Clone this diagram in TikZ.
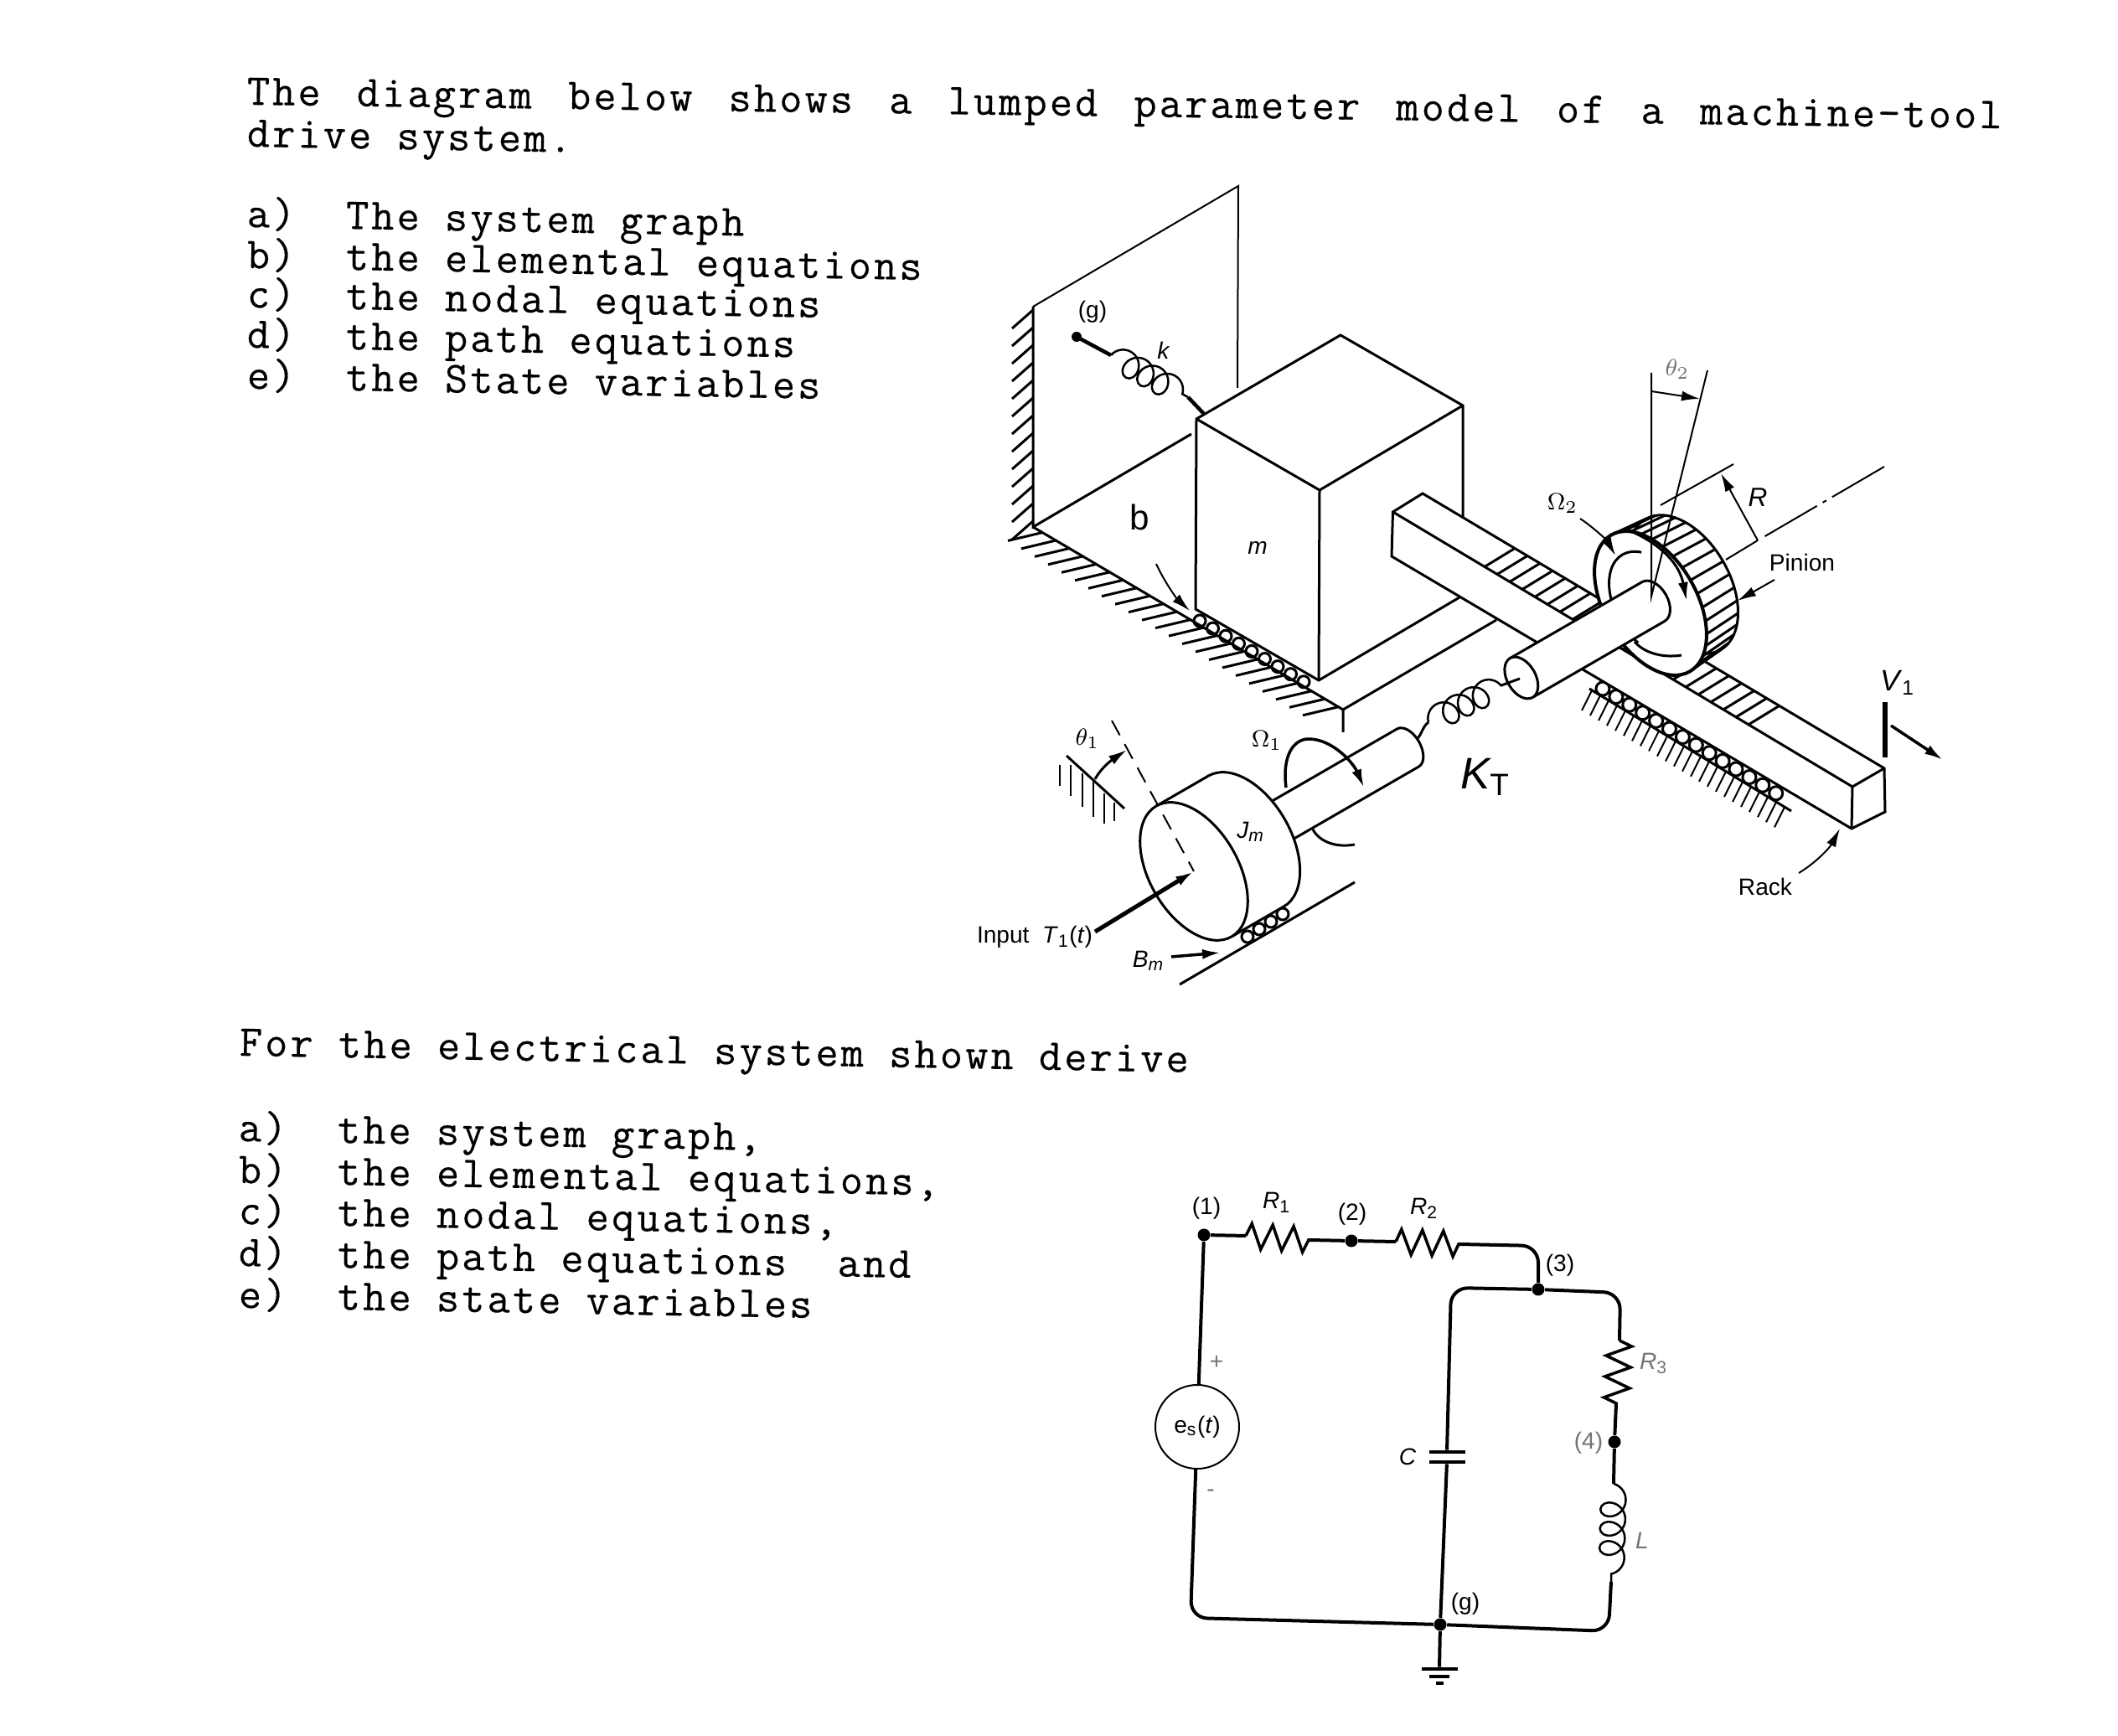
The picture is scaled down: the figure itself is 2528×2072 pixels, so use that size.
\documentclass[tikz,border=0pt]{standalone}
\usepackage{fontspec}
\setsansfont{Liberation Sans}
\setmonofont{Latin Modern Mono}[LetterSpace=6,FakeBold=.35]
\usetikzlibrary{decorations.pathmorphing,shapes.geometric,arrows.meta}
\tikzset{
  >={Latex[length=2.2mm,width=1.2mm]},
  txtline/.style={font=\ttfamily\fontsize{15}{17}\selectfont,anchor=base west,inner sep=0,rotate=-1},
  label/.style={font=\sffamily\fontsize{8}{9}\selectfont,inner sep=0},
  faint/.style={label,text=black!55},
  part/.style={line width=.3mm,fill=white},
  edge/.style={line width=.3mm},
  thin edge/.style={line width=.2mm},
  hatch/.style={line width=.3mm},
  coilwire/.style={line width=.25mm,decorate,decoration={coil,aspect=.9,amplitude=1.5mm,segment length=2mm}},
  wire/.style={line width=.4mm,rounded corners=2mm},
  reswire/.style={line width=.35mm,decorate,decoration={zigzag,amplitude=1.5mm,segment length=2.5mm}},
  indwire/.style={line width=.25mm,decorate,decoration={coil,aspect=.9,amplitude=1.5mm,segment length=2.3mm}},
  dotnode/.style={circle,fill=black,inner sep=0,minimum size=1.5mm},
  plate/.style={fill=black,inner sep=0,minimum height=.35mm},
}
\begin{document}
\begin{tikzpicture}[x=.1mm,y=-.1mm]
  \useasboundingbox (0,0) rectangle (2528,2072);
  % question text
  \node[txtline,rotate=.23] (title) at (294,125) {\spaceskip=12.3pt The diagram below shows a lumped parameter model of a machine-tool};
  \node[txtline] (titleb) at (294,175) {drive system.};
  \node[txtline] (qa) at (294,271) {a)\ \ The system graph};
  \node[txtline] (qb) at (294,320) {b)\ \ the elemental equations};
  \node[txtline] (qc) at (294,367) {c)\ \ the nodal equations};
  \node[txtline] (qd) at (294,415) {d)\ \ the path equations};
  \node[txtline] (qe) at (294,464) {e)\ \ the State variables};
  \node[txtline] (elec) at (285,1260) {For the electrical system shown derive};
  \node[txtline] (ea) at (284,1362) {a)\ \ the system graph,};
  \node[txtline] (eb) at (284,1412) {b)\ \ the elemental equations,};
  \node[txtline] (ec) at (284,1461) {c)\ \ the nodal equations,};
  \node[txtline] (ed) at (284,1511) {d)\ \ the path equations\ \ and};
  \node[txtline] (ee) at (284,1561) {e)\ \ the state variables};

  % wall and floor
  \draw[thin edge] (1233,366) -- (1478,222) -- (1477,463);
  \draw[edge] (1233,366) -- (1233,629) -- (1422,518);
  \draw[edge] (1233,629) -- (1603,847) -- (1603,874);
  \draw[edge] (1603,847) -- (1786,740);
  \foreach \hy in {370,391,...,622}
    \draw[hatch] (1233,\hy) -- ++(-25,22);
  \foreach \hx in {1245,1261,...,1600}
    \draw[hatch] ({\hx},{628.6+(\hx-1233.5)*.592}) -- ++(-42,10);
  % block
  \fill[white] (1428,500) -- (1600,400) -- (1746,484) -- (1746,620) -- (1742,713) -- (1574,812) -- (1427,727) -- cycle;
  \draw[edge] (1746,620) -- (1746,484) -- (1600,400) -- (1428,500) -- (1427,727) -- (1574,812) -- (1742,713);
  \draw[edge] (1428,500) -- (1575,585) -- (1746,484);
  \draw[edge] (1575,585) -- (1574,812);
  \foreach \i in {0,...,8}
    \draw[edge] ({1432+15.5*\i},{741+9.1*\i}) circle (7);
  % spring k
  \fill (1285,402) circle (6);
  \draw[line width=.45mm] (1285,402) -- (1326,424);
  \draw[coilwire] (1326,424) -- (1418,474);
  \draw[line width=.45mm] (1418,474) -- (1437,494);
  \draw[->,thin edge] (1380,673) .. controls (1390,695) and (1405,715) .. (1420,729);

  % rack
  \foreach \i in {0,...,13}
    \draw[edge] ({1913+15.9*\i},{822+9.6*\i}) circle (8);
  \draw[edge] (1897,822) -- (2138,968);
  \foreach \hx in {1900,1910,...,2135}
    \draw[thin edge] ({\hx},{824+(\hx-1900)*.606}) -- ++(-12,24);
  \draw[part] (1661,664) -- (1662.5,611) -- (1698,589) -- (2249,917) -- (2250,969) -- (2210,989) -- cycle;
  \draw[edge] (1662.5,611) -- (2211,939) -- (2249,917);
  \draw[edge] (2211,939) -- (2210,989);
  \foreach \hx in {1772,1787,...,2094}
    \draw[hatch] ({\hx},{611+(\hx-1662.5)*.598}) -- ++(36,-22);

  % pinion and its shaft
  \begin{scope}[shift={(1970,720)},rotate=30]
    \draw[part] (45,0) ellipse [x radius=55,y radius=90];
    \foreach \a in {-99,-88,...,99}
      \draw[hatch] ({55*cos(\a)},{94*sin(\a)}) -- ({45+55*cos(\a)},{90*sin(\a)});
    \draw[part,line width=.4mm] (0,0) ellipse [x radius=55,y radius=94];
    \draw[edge] ({42*cos(150)},{67*sin(150)}) arc [start angle=150,end angle=300,x radius=42,y radius=67];
    \draw[part] (-178,-27) -- (4,-27) arc [start angle=-90,end angle=90,x radius=17,y radius=27] -- (-178,27) -- cycle;
    \draw[part] (-178,0) ellipse [x radius=17,y radius=27];
  \end{scope}
  \draw[->,edge] (1942,632) .. controls (1985,650) and (2005,675) .. (2013,717);
  \draw[edge] (1951,766) .. controls (1965,782) and (1990,785) .. (2007,782);
  \draw[thin edge] (1971,445) -- (1971,712) -- (2038,442);
  \draw[->,thin edge] (1971,467) -- (2029,476);
  \draw[thin edge] (1982,603) -- (2069,554);
  \draw[thin edge] (2060,668) -- (2098,645);
  \draw[->,thin edge] (2098,645) -- (2054,565);
  \draw[thin edge,dash pattern=on 7.2mm off .8mm on .5mm off .8mm] (2249,557) -- (2105,641);
  \draw[->,thin edge] (1886,619) .. controls (1900,628) and (1918,645) .. (1928,663);
  \draw[->,thin edge] (2118,692) -- (2074,717);
  \draw[line width=.6mm] (2250,838) -- (2250,904);
  \draw[->,line width=.35mm] (2257,866) -- (2319,907);
  \draw[->,thin edge] (2147,1042) .. controls (2170,1028) and (2185,1010) .. (2196,989);

  % torsion spring
  \draw[edge] (1690,883) .. controls (1697,878) and (1697,868) .. (1705,862);
  \draw[coilwire] (1705,862) -- (1792,818);
  \draw[edge] (1792,818) -- (1814,810);

  % wheel and its shaft
  \begin{scope}[shift={(1425,1040)},rotate=30]
    \draw[part] (110,-26) -- (295,-26) arc [start angle=-90,end angle=90,x radius=15,y radius=26] -- (110,26) -- cycle;
    \draw[part] (72,0) ellipse [x radius=53,y radius=90];
    \fill[white] (0,-90) rectangle (72,90);
    \draw[edge] (0,-90) -- (72,-90);
    \draw[edge] (0,90) -- (72,90);
    \draw[part] (0,0) ellipse [x radius=53,y radius=90];
  \end{scope}
  \draw[->,line width=.35mm] (1535,940) .. controls (1530,900) and (1545,882) .. (1562,882) .. controls (1590,882) and (1615,910) .. (1628,940);
  \draw[edge] (1567,990) .. controls (1575,1005) and (1595,1012) .. (1617,1008);
  \draw[thin edge,dash pattern=on 2mm off 1.2mm] (1327,860) -- (1425,1040);
  \draw[->,line width=.5mm] (1307,1112) -- (1425,1040);
  % stop behind theta_1
  \draw[edge] (1273,902) -- (1342,965);
  \draw[thin edge] (1265,913) -- (1265,938);
  \draw[thin edge] (1278,913) -- (1278,950);
  \draw[thin edge] (1292,923) -- (1292,963);
  \draw[thin edge] (1305,933) -- (1305,975);
  \draw[thin edge] (1318,947) -- (1318,983);
  \draw[thin edge] (1330,958) -- (1330,980);
  \draw[->,edge] (1307,930) .. controls (1315,915) and (1330,905) .. (1345,895);
  % wheel support
  \draw[edge] (1408,1175) -- (1617,1053);
  \foreach \i in {0,1,2,3}
    \draw[edge] ({1489+14*\i},{1118-9*\i}) circle (7);
  \draw[->,line width=.35mm] (1398,1142) -- (1457,1137);

  % machine labels
  \node[label] (lg) at (1304,372) {(g)};
  \node[label] (lk) at (1389,418) {\textit{k}};
  \node[label,font=\sffamily\fontsize{12}{14}\selectfont] (lb) at (1360,617) {b};
  \node[label] (lm) at (1501,654) {\textit{m}};
  \node[label] (lomegb) at (1865,601) {$\Omega_2$};
  \node[faint] (ltheb) at (2002,441) {$\theta_2$};
  \node[label,font=\sffamily\itshape\fontsize{9}{10}\selectfont] (lr) at (2098,594) {R};
  \node[label] (lpin) at (2151,671) {Pinion};
  \node[label] (lrack) at (2107,1058) {Rack};
  \node[label,font=\sffamily\fontsize{10}{12}\selectfont] (lv) at (2265,815) {\textit{V}\textsubscript{1}};
  \node[label,font=\sffamily\itshape\fontsize{15}{17}\selectfont] (lkt) at (1773,927) {K\textsubscript{\upshape T}};
  \node[label] (lomega) at (1512,884) {$\Omega_1$};
  \node[label] (lthe) at (1298,882) {$\theta_1$};
  \node[label] (ljm) at (1493,993) {\textit{J\textsubscript{m}}};
  \node[label] (lin) at (1235,1118) {Input\ \ \textit{T}\textsubscript{1}(\textit{t})};
  \node[label] (lbm) at (1371,1147) {\textit{B\textsubscript{m}}};

  % circuit
  \node[dotnode] (n1) at (1437,1474) {};
  \node[dotnode] (n2) at (1613,1481) {};
  \node[dotnode] (n3) at (1836,1539) {};
  \node[dotnode] (n4) at (1927,1721) {};
  \node[dotnode] (ng) at (1719,1939) {};
  \node[circle,draw,line width=.2mm,minimum size=10mm,inner sep=0,font=\sffamily\fontsize{8}{9}\selectfont] (src) at (1429,1703) {e\textsubscript{s}(\textit{t})};
  \coordinate (r1a) at (1487,1475);
  \coordinate (r1b) at (1562,1480);
  \coordinate (r2a) at (1666,1482);
  \coordinate (r2b) at (1742,1485);
  \coordinate (r3a) at (1933,1600);
  \coordinate (r3b) at (1929,1676);
  \coordinate (la) at (1926,1771);
  \coordinate (lz) at (1923,1888);
  \coordinate (c3) at (1836,1487);
  \coordinate (cc) at (1732,1537);
  \coordinate (cr) at (1934,1543);
  \coordinate (cb) at (1920,1947);
  \coordinate (cl) at (1421,1931);
  \node[plate,minimum width=4.3mm] (capa) at (1727,1733) {};
  \node[plate,minimum width=4.3mm] (capb) at (1727,1745) {};
  \node[plate,minimum width=4.3mm] (gnda) at (1718,1992) {};
  \node[plate,minimum width=2.4mm] (gndb) at (1718,2001) {};
  \node[plate,minimum width=.9mm] (gndc) at (1718,2009) {};
  \draw[wire] (n1) -- (r1a);
  \draw[reswire] (r1a) -- (r1b);
  \draw[wire] (r1b) -- (n2) -- (r2a);
  \draw[reswire] (r2a) -- (r2b);
  \draw[wire] (r2b) -- (c3) -- (n3);
  \draw[wire] (n3) -- (cc) -- (capa);
  \draw[wire] (capb) -- (ng);
  \draw[wire] (n3) -- (cr) -- (r3a);
  \draw[reswire] (r3a) -- (r3b);
  \draw[wire] (r3b) -- (n4) -- (la);
  \draw[indwire] (la) -- (lz);
  \draw[wire] (lz) -- (cb) -- (ng);
  \draw[wire] (n1) -- (src);
  \draw[wire] (src) -- (cl) -- (ng);
  \draw[wire] (ng) -- (gnda);
  % circuit labels
  \node[label] (l1) at (1440,1442) {(1)};
  \node[label] (lra) at (1524,1435) {\textit{R}\textsubscript{1}};
  \node[label] (l2) at (1614,1449) {(2)};
  \node[label] (lrb) at (1700,1442) {\textit{R}\textsubscript{2}};
  \node[label] (l3) at (1862,1510) {(3)};
  \node[faint] (lrc) at (1974,1627) {\textit{R}\textsubscript{3}};
  \node[faint] (l4) at (1896,1722) {(4)};
  \node[label] (lc) at (1680,1739) {\textit{C}};
  \node[faint] (ll) at (1960,1839) {\textit{L}};
  \node[label] (lgg) at (1749,1914) {(g)};
  \node[faint] (lp) at (1452,1626) {+};
  \node[faint] (lq) at (1445,1782) {-};
\end{tikzpicture}
\end{document}
